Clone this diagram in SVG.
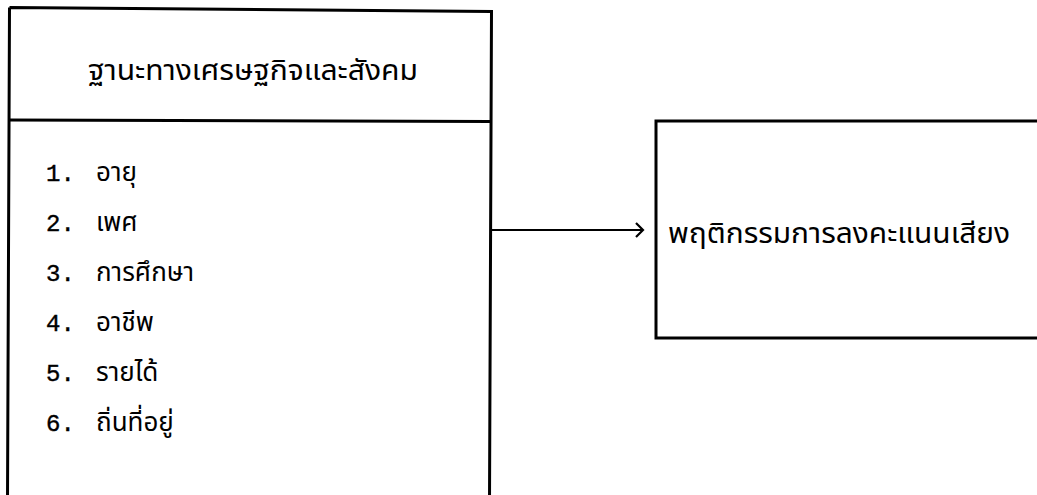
<svg xmlns="http://www.w3.org/2000/svg" width="1037" height="495" viewBox="0 0 1037 495">
<style>
.box{fill:none;stroke:#000;stroke-width:3}
.conn{fill:none;stroke:#000;stroke-width:2.2}
.th{font-family:"Noto Sans Thai","Noto Sans","DejaVu Sans",sans-serif;fill:#000}
.li{font-size:26px}
.num{font-family:"Liberation Mono",monospace;font-size:24px;fill:#000;stroke:#000;stroke-width:0.4}
</style>
<rect width="1037" height="495" fill="#fff"/>
<g id="node-socio">
<path class="box" d="M9.5,7.5 L491.5,11.5 L489.5,500 M9.5,7.5 L7.5,500"/>
<path class="box" d="M9,120 L491,121.5"/>
<text class="th" x="88" y="80" font-size="28" textLength="330" lengthAdjust="spacingAndGlyphs">ฐานะทางเศรษฐกิจและสังคม</text>
<text class="num" x="46" y="181">1.</text><text class="th li" x="96" y="181">อายุ</text>
<text class="num" x="46" y="231">2.</text><text class="th li" x="96" y="231">เพศ</text>
<text class="num" x="46" y="281">3.</text><text class="th li" x="96" y="281">การศึกษา</text>
<text class="num" x="46" y="331">4.</text><text class="th li" x="96" y="331">อาชีพ</text>
<text class="num" x="46" y="381">5.</text><text class="th li" x="96" y="381">รายได้</text>
<text class="num" x="46" y="431">6.</text><text class="th li" x="96" y="431">ถิ่นที่อยู่</text>
</g>
<g id="node-vote">
<path class="box" d="M1040,121 L656,121 L656,338 L1040,338"/>
<text class="th" x="668" y="243" font-size="28" textLength="342" lengthAdjust="spacingAndGlyphs">พฤติกรรมการลงคะแนนเสียง</text>
</g>
<g id="connectors">
<path class="conn" d="M491,230 L643,230"/>
<path class="conn" d="M636,223 L643,230 L636,237"/>
</g>
</svg>
